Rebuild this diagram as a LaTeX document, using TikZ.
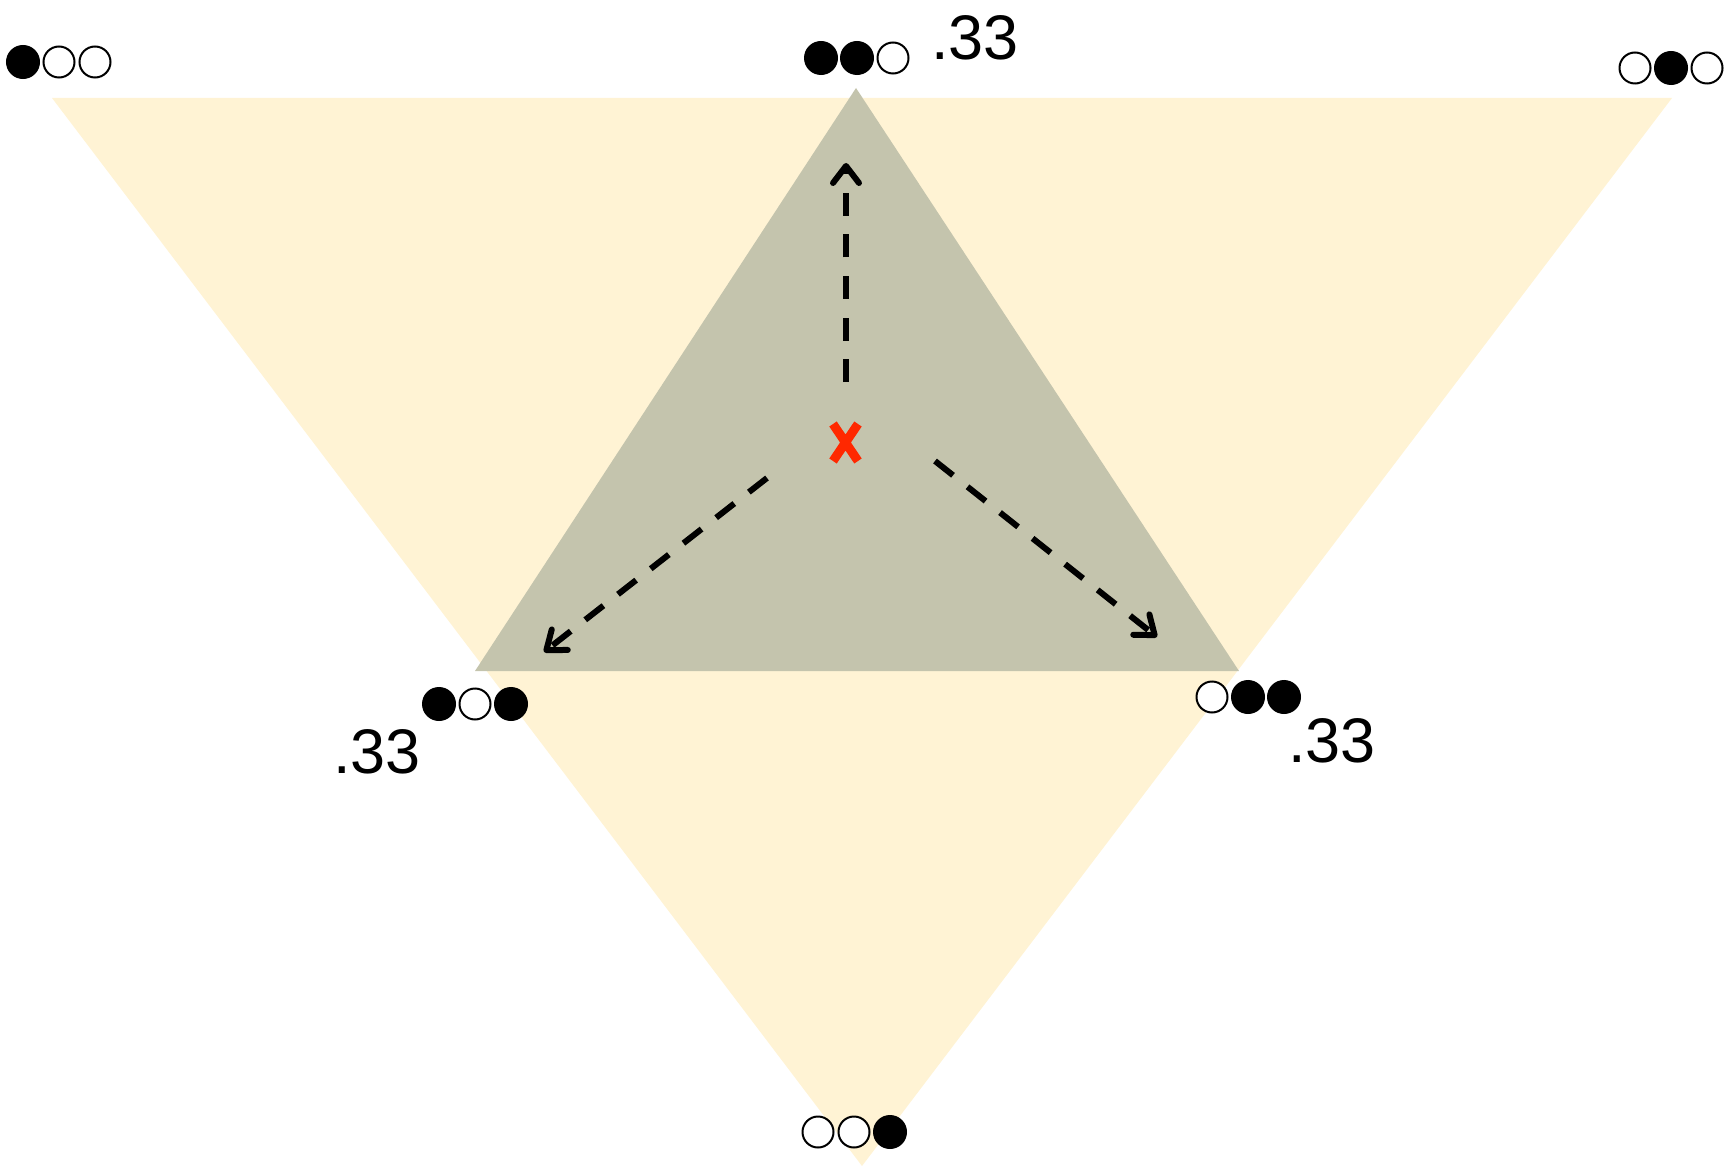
\documentclass[tikz,border=0pt]{standalone}
\usepackage{fontspec}
\setmainfont{Liberation Sans}
\usetikzlibrary{arrows.meta}
\definecolor{bgyellow}{RGB}{255,243,212}
\definecolor{innergray}{RGB}{196,196,173}
\definecolor{xred}{RGB}{255,40,0}
\tikzset{
  full/.style={circle,draw=black,fill=black,line width=2pt,minimum size=32pt,inner sep=0pt},
  empty/.style={circle,draw=black,fill=white,line width=2pt,minimum size=31pt,inner sep=0pt},
  dasharrow/.style={line width=6pt,dash pattern=on 23pt off 18.5pt,line cap=butt,
    -{Straight Barb[length=17pt,width=26pt,line cap=round,line join=round]}},
  prob/.style={font=\fontsize{63}{70}\selectfont,inner sep=0pt,anchor=base west},
}
\begin{document}
\begin{tikzpicture}[x=1pt,y=-1pt]
\useasboundingbox (0,0) rectangle (1729,1166);
% triangles
\coordinate (TL) at (52,98);
\coordinate (TR) at (1672,98);
\coordinate (B) at (862,1166);
\coordinate (GT) at (856,88);
\coordinate (GL) at (475,671);
\coordinate (GR) at (1239,671);
\fill[bgyellow] (TL) -- (TR) -- (B) -- cycle;
\fill[innergray] (GT) -- (GL) -- (GR) -- cycle;
% red cross
\node[inner sep=0pt,minimum size=1pt] (X) at (845,442) {};
\draw[xred,line width=9pt] (833,424) -- (858,461) (858,424) -- (833,461);
% arrows
\coordinate (s1) at (846,382);
\coordinate (e1) at (846,163);
\coordinate (s2) at (767,478);
\coordinate (e2) at (544,652);
\coordinate (s3) at (935,461);
\coordinate (e3) at (1157,637);
\draw[dasharrow] (s1) -- (e1);
\draw[dasharrow] (s2) -- (e2);
\draw[dasharrow] (s3) -- (e3);
% circle triplets
\node[full]  (a1) at (23,62) {};
\node[empty] (a2) at (59,62) {};
\node[empty] (a3) at (95,62) {};
\node[full]  (b1) at (821,58) {};
\node[full]  (b2) at (857,58) {};
\node[empty] (b3) at (893,58) {};
\node[empty] (c1) at (1635,68) {};
\node[full]  (c2) at (1671,68) {};
\node[empty] (c3) at (1707,68) {};
\node[full]  (d1) at (439,704) {};
\node[empty] (d2) at (475,704) {};
\node[full]  (d3) at (511,704) {};
\node[empty] (e1c) at (1212,697) {};
\node[full]  (e2c) at (1248,697) {};
\node[full]  (e3c) at (1284,697) {};
\node[empty] (f1) at (818,1132) {};
\node[empty] (f2) at (854,1132) {};
\node[full]  (f3) at (890,1132) {};
% probabilities
\node[prob] (p1) at (931,60) {.33};
\node[prob] (p2) at (333,773) {.33};
\node[prob] (p3) at (1288,762) {.33};
\end{tikzpicture}
\end{document}
